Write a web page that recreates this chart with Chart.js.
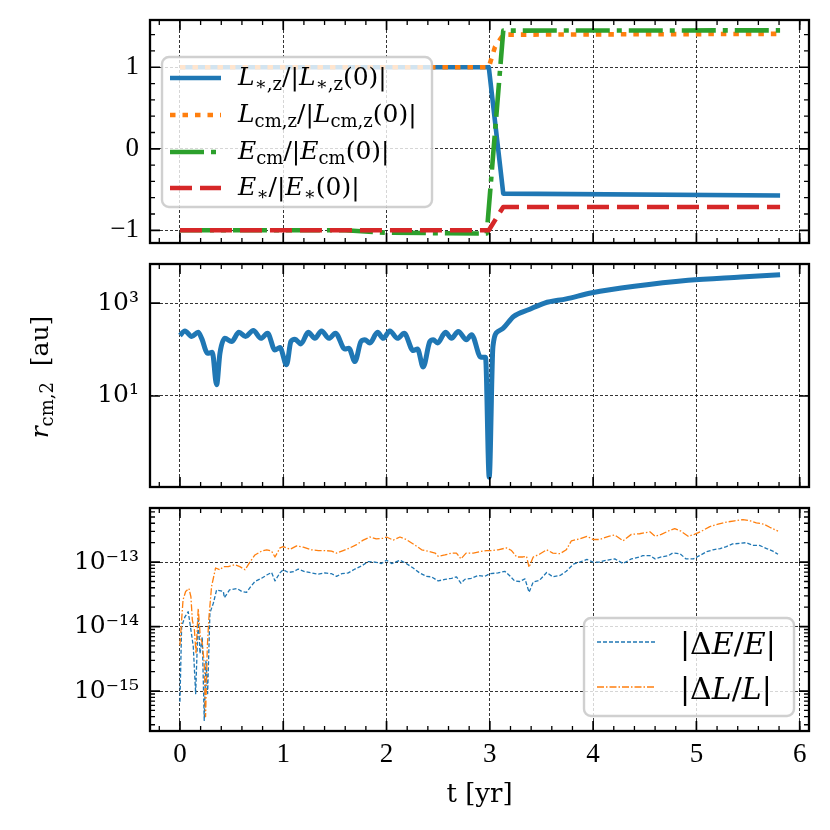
<!DOCTYPE html>
<html>
<head>
<meta charset="utf-8">
<title>Binary orbit diagnostics</title>
<script src="https://cdn.jsdelivr.net/npm/chart.js@4.4.1/dist/chart.umd.min.js"></script>
<style>
  body { margin: 0; background: #fff; }
  canvas.panel { position: absolute; left: 0; }
</style>
</head>
<body>
<canvas id="top" class="panel" width="830" height="255" style="top:0"></canvas>
<canvas id="mid" class="panel" width="830" height="245" style="top:255px"></canvas>
<canvas id="bot" class="panel" width="830" height="330" style="top:500px"></canvas>
<script>
// shared time axis
const X_MIN = -0.29, X_MAX = 6.09;
const xTicks = [0, 1, 2, 3, 4, 5, 6];
const xMinor = [-0.2, 0.2, 0.4, 0.6, 0.8, 1.2, 1.4, 1.6, 1.8, 2.2, 2.4, 2.6, 2.8, 3.2, 3.4, 3.6, 3.8,
                4.2, 4.4, 4.6, 4.8, 5.2, 5.4, 5.6, 5.8, 6.0];

// top panel: normalised L and E
const tLstar = [0, 2.99, 3.13, 5.81];
const Lstar  = [1, 1, -0.55, -0.574];
const tLcm   = [0, 2.99, 3.05, 3.13, 5.81];
const Lcm    = [1, 1, 1.25, 1.40, 1.41];
const tEcm   = [0, 1.6, 2.0, 2.97, 3.13, 5.81];
const Ecm    = [-1, -1, -1.03, -1.04, 1.45, 1.453];
const tEstar = [0, 2.99, 3.13, 5.81];
const Estar  = [-1, -1, -0.714, -0.714];
const y1Ticks = [-1, 0, 1];
const y1Minor = [-0.8, -0.6, -0.4, -0.2, 0.2, 0.4, 0.6, 0.8, 1.2, 1.4];

// middle panel: r_cm,2 [au]
const tR = [0, 0.048, 0.113, 0.177, 0.21, 0.268, 0.313, 0.355, 0.387, 0.435,
            0.5, 0.571, 0.635, 0.71, 0.784, 0.848, 0.919, 0.968, 1.032, 1.074,
            1.113, 1.171, 1.242, 1.306, 1.371, 1.442, 1.506, 1.597, 1.635, 1.694,
            1.752, 1.79, 1.839, 1.913, 1.968, 2.032, 2.106, 2.171, 2.258, 2.3,
            2.355, 2.419, 2.452, 2.494, 2.571, 2.629, 2.694, 2.774, 2.823, 2.913,
            2.958, 2.994, 3.03, 3.08, 3.13, 3.23, 3.38, 3.53, 3.74, 3.99,
            4.40, 4.92, 5.43, 5.81];
const rcm = [200, 251, 191, 234, 174, 83, 87, 17.4, 83, 174,
             148, 234, 191, 257, 174, 224, 98, 110, 47, 148,
             166, 132, 234, 174, 251, 174, 224, 102, 107, 55,
             148, 162, 138, 234, 174, 251, 174, 224, 95, 102,
             42, 148, 162, 138, 234, 174, 245, 162, 209, 68,
             68, 0.18, 115, 245, 288, 513, 724, 1000, 1230, 1660,
             2290, 3090, 3630, 4070];
const y2Ticks = [10, 1000];

// bottom panel: relative errors
const tE = [0, 0.016, 0.048, 0.08, 0.106, 0.129, 0.152, 0.177, 0.194, 0.216,
            0.235, 0.252, 0.268, 0.29, 0.323, 0.355, 0.42, 0.43, 0.48, 0.55,
            0.6, 0.645, 0.687, 0.726, 0.79, 0.84, 0.887, 0.92, 0.968, 1.0,
            1.05, 1.1, 1.145, 1.21, 1.274, 1.34, 1.403, 1.468, 1.516, 1.565,
            1.63, 1.694, 1.758, 1.823, 1.887, 1.95, 2.0, 2.05, 2.13, 2.19,
            2.258, 2.32, 2.387, 2.435, 2.5, 2.565, 2.63, 2.677, 2.72, 2.758,
            2.82, 2.887, 2.95, 3.0, 3.08, 3.145, 3.19, 3.24, 3.29, 3.34,
            3.38, 3.42, 3.48, 3.55, 3.61, 3.68, 3.74, 3.81, 3.87, 3.94,
            4.0, 4.06, 4.13, 4.21, 4.29, 4.37, 4.45, 4.48, 4.55, 4.6,
            4.66, 4.73, 4.77, 4.84, 4.9, 4.97, 5.03, 5.1, 5.16, 5.23,
            5.29, 5.35, 5.42, 5.48, 5.55, 5.61, 5.68, 5.74, 5.79];
const dE = [6.8e-16, 1.0e-14, 1.41e-14, 1.7e-14, 8.9e-15, 4.9e-15, 9.1e-16, 1.41e-14, 3.8e-15, 6.9e-15,
            3.5e-16, 3.0e-15, 9.1e-16, 1.62e-14, 2.3e-14, 3.7e-14, 3.5e-14, 2.8e-14, 3.7e-14, 3.9e-14,
            3.5e-14, 3.4e-14, 4.2e-14, 5.0e-14, 5.6e-14, 6.3e-14, 6.9e-14, 5.1e-14, 6.8e-14, 7.6e-14,
            6.9e-14, 7.1e-14, 7.8e-14, 7.1e-14, 6.8e-14, 6.5e-14, 6.8e-14, 6.6e-14, 6.0e-14, 6.6e-14,
            6.8e-14, 7.8e-14, 8.7e-14, 1.02e-13, 1.0e-13, 9.5e-14, 1.07e-13, 9.5e-14, 1.07e-13, 9.5e-14,
            8.1e-14, 6.8e-14, 6.0e-14, 5.9e-14, 5.1e-14, 5.4e-14, 5.6e-14, 5.9e-14, 4.7e-14, 5.4e-14,
            5.6e-14, 6.2e-14, 6.0e-14, 6.6e-14, 6.8e-14, 7.2e-14, 6.2e-14, 5.1e-14, 5.0e-14, 5.5e-14,
            3.4e-14, 4.9e-14, 5.2e-14, 6.9e-14, 5.9e-14, 6.2e-14, 7.2e-14, 9.3e-14, 1.0e-13, 1.10e-13,
            1.0e-13, 1.0e-13, 1.07e-13, 1.12e-13, 9.5e-14, 1.12e-13, 1.20e-13, 1.26e-13, 1.26e-13, 1.12e-13,
            1.20e-13, 1.26e-13, 1.38e-13, 1.35e-13, 1.12e-13, 1.12e-13, 1.26e-13, 1.45e-13, 1.55e-13, 1.62e-13,
            1.74e-13, 1.91e-13, 1.95e-13, 2.0e-13, 1.82e-13, 1.82e-13, 1.62e-13, 1.48e-13, 1.32e-13];
const tL = [0, 0.016, 0.03, 0.055, 0.087, 0.106, 0.12, 0.14, 0.155, 0.177,
            0.197, 0.216, 0.235, 0.248, 0.265, 0.28, 0.306, 0.345, 0.387, 0.42,
            0.468, 0.532, 0.58, 0.63, 0.677, 0.726, 0.79, 0.84, 0.887, 0.92,
            0.968, 1.0, 1.065, 1.13, 1.194, 1.274, 1.34, 1.403, 1.468, 1.516,
            1.58, 1.645, 1.71, 1.774, 1.839, 1.9, 1.968, 2.0, 2.065, 2.13,
            2.19, 2.27, 2.34, 2.4, 2.47, 2.5, 2.565, 2.63, 2.677, 2.72,
            2.77, 2.84, 2.9, 2.97, 3.02, 3.08, 3.16, 3.21, 3.26, 3.32,
            3.355, 3.38, 3.42, 3.48, 3.55, 3.61, 3.68, 3.74, 3.79, 3.87,
            3.94, 4.0, 4.06, 4.15, 4.21, 4.29, 4.37, 4.45, 4.55, 4.6,
            4.66, 4.74, 4.79, 4.85, 4.92, 4.98, 5.05, 5.13, 5.21, 5.29,
            5.37, 5.45, 5.52, 5.58, 5.65, 5.71, 5.79];
const dL = [5.1e-15, 1.26e-14, 2.6e-14, 3.5e-14, 3.9e-14, 2.9e-14, 1.26e-14, 8.9e-15, 3.8e-15, 1.9e-14,
            6.9e-15, 5.5e-15, 2.7e-15, 4.0e-16, 4.9e-15, 1.35e-14, 4.2e-14, 8.1e-14, 7.6e-14, 8.5e-14,
            8.5e-14, 9.1e-14, 8.5e-14, 7.6e-14, 1.0e-13, 1.29e-13, 1.48e-13, 1.55e-13, 1.48e-13, 1.2e-13,
            1.66e-13, 1.74e-13, 1.58e-13, 1.78e-13, 1.7e-13, 1.55e-13, 1.51e-13, 1.51e-13, 1.48e-13, 1.38e-13,
            1.51e-13, 1.66e-13, 1.86e-13, 2.19e-13, 2.45e-13, 2.29e-13, 2.34e-13, 2.45e-13, 2.19e-13, 2.45e-13,
            2.24e-13, 1.86e-13, 1.55e-13, 1.48e-13, 1.38e-13, 1.23e-13, 1.29e-13, 1.38e-13, 1.38e-13, 1.12e-13,
            1.38e-13, 1.38e-13, 1.45e-13, 1.51e-13, 1.51e-13, 1.55e-13, 1.66e-13, 1.51e-13, 1.2e-13, 1.2e-13,
            1.23e-13, 8.3e-14, 1.2e-13, 1.32e-13, 1.55e-13, 1.38e-13, 1.35e-13, 1.55e-13, 2.14e-13, 2.29e-13,
            2.51e-13, 2.24e-13, 2.24e-13, 2.51e-13, 2.63e-13, 2.14e-13, 2.69e-13, 2.75e-13, 2.95e-13, 2.51e-13,
            2.69e-13, 3.09e-13, 3.31e-13, 3.02e-13, 2.51e-13, 2.69e-13, 3.02e-13, 3.55e-13, 3.89e-13, 4.17e-13,
            4.37e-13, 4.57e-13, 4.37e-13, 4.07e-13, 3.89e-13, 3.47e-13, 3.02e-13];
const y3Ticks = [1e-15, 1e-14, 1e-13];
const y3Minor = [3e-16, 4e-16, 5e-16, 6e-16, 7e-16, 8e-16, 9e-16,
                 2e-15, 3e-15, 4e-15, 5e-15, 6e-15, 7e-15, 8e-15, 9e-15,
                 2e-14, 3e-14, 4e-14, 5e-14, 6e-14, 7e-14, 8e-14, 9e-14,
                 2e-13, 3e-13, 4e-13, 5e-13, 6e-13];

// legend / axis labels (rich text pieces)
const topLegend = [
  [{t: 'L', it: 1}, {t: '∗,z', sub: 1}, {t: '/|'}, {t: 'L', it: 1}, {t: '∗,z', sub: 1}, {t: '(0)|'}],
  [{t: 'L', it: 1}, {t: 'cm,z', sub: 1}, {t: '/|'}, {t: 'L', it: 1}, {t: 'cm,z', sub: 1}, {t: '(0)|'}],
  [{t: 'E', it: 1}, {t: 'cm', sub: 1}, {t: '/|'}, {t: 'E', it: 1}, {t: 'cm', sub: 1}, {t: '(0)|'}],
  [{t: 'E', it: 1}, {t: '∗', sub: 1}, {t: '/|'}, {t: 'E', it: 1}, {t: '∗', sub: 1}, {t: '(0)|'}]
];
const botLegend = [
  [{t: '|Δ'}, {t: 'E', it: 1}, {t: '/'}, {t: 'E', it: 1}, {t: '|'}],
  [{t: '|Δ'}, {t: 'L', it: 1}, {t: '/'}, {t: 'L', it: 1}, {t: '|'}]
];
const midYTitle = [{t: 'r', it: 1}, {t: 'cm,2', sub: 1}, {t: '  [au]'}];
const xTitle = 't [yr]';

const C = {blue: '#1f77b4', orange: '#ff7f0e', green: '#2ca02c', red: '#d62728'};
const SERIF = '"Liberation Serif", "DejaVu Serif", serif';
const MATH = '"DejaVu Serif", serif';
const sup = {'-': '⁻', '0': '⁰', '1': '¹', '2': '²', '3': '³', '4': '⁴', '5': '⁵', '6': '⁶', '7': '⁷', '8': '⁸', '9': '⁹'};
const powLabel = v => '10' + String(Math.round(Math.log10(v))).split('').map(c => sup[c]).join('');
const pts = (xs, ys) => xs.map((x, i) => ({x: x, y: ys[i]}));

function richText(ctx, parts, x, y, size, align) {
  const font = p => (p.it ? 'italic ' : '') + (p.sub ? size * 0.72 : size) + 'px ' + MATH;
  let w = 0;
  parts.forEach(p => { ctx.font = font(p); w += ctx.measureText(p.t).width; });
  let cx = align === 'center' ? x - w / 2 : x;
  ctx.textAlign = 'left';
  ctx.textBaseline = 'middle';
  parts.forEach(p => {
    ctx.font = font(p);
    ctx.fillText(p.t, cx, y + (p.sub ? size * 0.3 : 0));
    cx += ctx.measureText(p.t).width;
  });
}

// frame with inward ticks on all four sides, plus custom legend and titles
const decor = {
  id: 'decor',
  afterDatasetsDraw(chart, args, o) {
    const {ctx, chartArea: a, scales: {x, y}} = chart;
    ctx.save();
    ctx.strokeStyle = '#000';
    const vTicks = (vals, len, lw) => {
      ctx.lineWidth = lw;
      vals.forEach(v => {
        const px = x.getPixelForValue(v);
        if (px < a.left || px > a.right) return;
        ctx.beginPath();
        ctx.moveTo(px, a.bottom); ctx.lineTo(px, a.bottom - len);
        ctx.moveTo(px, a.top); ctx.lineTo(px, a.top + len);
        ctx.stroke();
      });
    };
    const hTicks = (vals, len, lw) => {
      ctx.lineWidth = lw;
      vals.forEach(v => {
        const py = y.getPixelForValue(v);
        if (py < a.top || py > a.bottom) return;
        ctx.beginPath();
        ctx.moveTo(a.left, py); ctx.lineTo(a.left + len, py);
        ctx.moveTo(a.right, py); ctx.lineTo(a.right - len, py);
        ctx.stroke();
      });
    };
    vTicks(xTicks, 10, 1.7);
    vTicks(xMinor, 5, 1.3);
    hTicks(o.yMajor, 10, 1.7);
    hTicks(o.yMinor || [], 5, 1.3);
    ctx.lineWidth = 2.3;
    ctx.strokeRect(a.left, a.top, a.right - a.left, a.bottom - a.top);
    ctx.restore();
  },
  afterDraw(chart, args, o) {
    const ctx = chart.ctx;
    ctx.save();
    ctx.fillStyle = '#000';
    if (o.legend) {
      const L = o.legend;
      const [bx, by, bw, bh] = L.box;
      ctx.beginPath();
      ctx.roundRect(bx, by, bw, bh, 7);
      ctx.fillStyle = 'rgba(255,255,255,0.8)';
      ctx.fill();
      ctx.strokeStyle = 'rgba(200,200,200,0.85)';
      ctx.lineWidth = 2.4;
      ctx.stroke();
      L.items.forEach((parts, i) => {
        const ds = chart.data.datasets[L.ds[i]];
        const yy = L.ys[i];
        ctx.strokeStyle = ds.borderColor;
        ctx.lineWidth = ds.borderWidth;
        ctx.setLineDash(ds.borderDash || []);
        ctx.lineCap = 'butt';
        ctx.beginPath();
        ctx.moveTo(L.x0, yy); ctx.lineTo(L.x1, yy);
        ctx.stroke();
        ctx.setLineDash([]);
        ctx.fillStyle = '#000';
        richText(ctx, parts, L.tx, yy + (L.dy || 0), L.size, 'left');
      });
    }
    if (o.yTitle) {
      ctx.translate(o.yTitle.x, o.yTitle.y);
      ctx.rotate(-Math.PI / 2);
      ctx.fillStyle = '#000';
      richText(ctx, o.yTitle.parts, 0, 0, o.yTitle.size, 'center');
      ctx.setTransform(1, 0, 0, 1, 0, 0);
    }
    if (o.xTitle) {
      const a = chart.chartArea;
      ctx.fillStyle = '#000';
      ctx.font = o.xTitle.size + 'px ' + MATH;
      ctx.textAlign = 'center';
      ctx.textBaseline = 'middle';
      ctx.fillText(o.xTitle.text, (a.left + a.right) / 2, o.xTitle.y);
    }
    ctx.restore();
  }
};

function xScale(showLabels, h) {
  return {
    type: 'linear', min: X_MIN, max: X_MAX,
    afterBuildTicks: s => { s.ticks = xTicks.map(v => ({value: v})); },
    afterFit: s => { s.height = h; s.paddingLeft = 0; s.paddingRight = 0; },
    grid: {color: '#000', lineWidth: 0.8, drawTicks: false},
    border: {display: false, dash: [3, 2]},
    ticks: {display: showLabels, padding: 8, color: '#000', autoSkip: false, maxRotation: 0,
            font: {family: SERIF, size: 27}}
  };
}

function yScale(type, min, max, majors, fmt, family, size) {
  return {
    type: type, min: min, max: max,
    afterBuildTicks: s => { s.ticks = majors.map(v => ({value: v})); },
    afterFit: s => { s.width = 150; s.paddingTop = 0; s.paddingBottom = 0; },
    grid: {color: '#000', lineWidth: 0.8, drawTicks: false},
    border: {display: false, dash: [3, 2]},
    ticks: {padding: 11, color: '#000', autoSkip: false, callback: fmt,
            font: {family: family, size: size}}
  };
}

function line(data, color, width, dash, order, extra) {
  return Object.assign({data: data, borderColor: color, borderWidth: width, borderDash: dash,
    fill: false, pointRadius: 0, tension: 0, order: order, borderCapStyle: 'butt', borderJoinStyle: 'round'}, extra || {});
}

const common = pad => ({
  responsive: false, animation: false,
  layout: {padding: {top: pad, right: 21, left: 0, bottom: 0}},
  events: []
});

// ---- top panel
new Chart(document.getElementById('top'), {
  type: 'line',
  data: {datasets: [
    line(pts(tLstar, Lstar), C.blue, 4.6, [], 4),
    line(pts(tLcm, Lcm), C.orange, 4.6, [5.5, 7], 3),
    line(pts(tEcm, Ecm), C.green, 4.6, [34, 7, 5, 7], 2),
    line(pts(tEstar, Estar), C.red, 4.6, [22, 8], 1)
  ]},
  options: Object.assign(common(20), {
    plugins: {legend: {display: false}, tooltip: {enabled: false},
      decor: {yMajor: y1Ticks, yMinor: y1Minor,
        legend: {box: [162, 57, 270, 150], ds: [0, 1, 2, 3], items: topLegend,
                 ys: [78, 115, 152, 188], x0: 170, x1: 221, tx: 238, size: 25}}},
    scales: {
      x: xScale(false, 12),
      y: yScale('linear', -1.156, 1.58, y1Ticks, v => v < 0 ? '−' + Math.abs(v) : String(v), SERIF, 27)
    }
  }),
  plugins: [decor]
});

// ---- middle panel
new Chart(document.getElementById('mid'), {
  type: 'line',
  data: {datasets: [
    line(pts(tR, rcm), C.blue, 5, [], 1, {cubicInterpolationMode: 'monotone'})
  ]},
  options: Object.assign(common(9), {
    plugins: {legend: {display: false}, tooltip: {enabled: false},
      decor: {yMajor: y2Ticks, yTitle: {parts: midYTitle, x: 41, y: 122, size: 25}}},
    scales: {
      x: xScale(false, 13),
      y: yScale('logarithmic', 0.110, 6920, y2Ticks, v => powLabel(v), MATH, 25)
    }
  }),
  plugins: [decor]
});

// ---- bottom panel
new Chart(document.getElementById('bot'), {
  type: 'line',
  data: {datasets: [
    line(pts(tE, dE), C.blue, 1.3, [4, 2], 2),
    line(pts(tL, dL), C.orange, 1.3, [7, 2, 1.5, 2], 1)
  ]},
  options: Object.assign(common(8), {
    plugins: {legend: {display: false}, tooltip: {enabled: false},
      decor: {yMajor: y3Ticks, yMinor: y3Minor,
        legend: {box: [584, 118, 210, 98], ds: [0, 1], items: botLegend,
                 ys: [142, 187], x0: 597, x1: 656, tx: 680, dy: 4, size: 30},
        xTitle: {text: xTitle, y: 295, size: 26}}},
    scales: {
      x: xScale(true, 99),
      y: yScale('logarithmic', 2.4e-16, 6.9e-13, y3Ticks, v => powLabel(v), MATH, 25)
    }
  }),
  plugins: [decor]
});
</script>
</body>
</html>
